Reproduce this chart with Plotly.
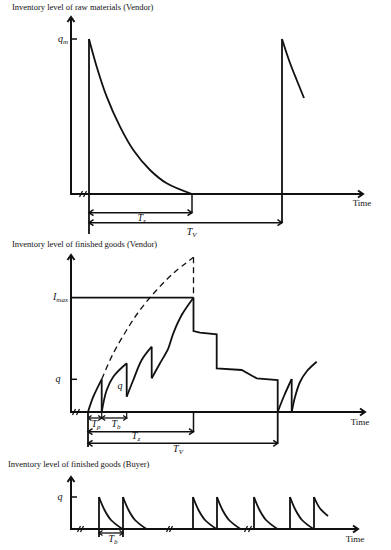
import math
import plotly.graph_objects as go

FONT = "Liberation Serif"
INK = "#111111"

# ---------------- Panel 1: raw materials (vendor) ----------------
raw_title = "Inventory level of raw materials (Vendor)"
raw_qm = 155
raw_axis_t_end = 292
raw_axis_L_top = 177
raw_order_times = [18, 211]
raw_Tz_end = 121
raw_decay_t = [18, 25.7, 35.7, 49, 62.3, 79, 95.7, 121]
raw_decay_L = [155, 127.3, 97.3, 67.3, 44, 24, 10.7, 0]
raw_next_t = [211, 219, 225.7, 233]
raw_next_L = [155, 131, 114, 96]
raw_breaks = [10, 14]
raw_dim_L = {"Tz": -18.7, "TV": -28.7, "ext": -40}

# ---------------- Panel 2: finished goods (vendor) ----------------
fg_title = "Inventory level of finished goods (Vendor)"
fg_Imax = 114.3
fg_q = 32.7
fg_axis_t_end = 294
fg_axis_L_top = 157
fg_t0 = 17
fg_Tp_end = 30.7
fg_Tb_end = 55.7
fg_Tz_end = 122.5
fg_TV_end = 206.7
fg_build = [
    ([17, 22.3, 30.7], [0, 15.3, 32.7]),
    ([30.7, 35.7, 42.3, 55.7], [0, 22, 35.3, 48.7]),
    ([55.7, 62.3, 70.7, 80.7], [15.3, 32, 52, 65.3]),
    ([80.7, 89, 97.3, 102.3, 110.7, 122.5], [33.7, 48.7, 63.7, 78.7, 97, 114.3]),
    ([206.7, 213, 220.7], [0, 16, 33]),
    ([220.7, 224, 229, 236, 245.7], [0, 15, 30, 41, 50.3]),
]
fg_drops = [(30.7, 32.7, 0), (55.7, 48.7, 15.3), (80.7, 65.3, 33.7), (220.7, 33, 0)]
fg_deplete_t = [122.5, 122.5, 129, 145.7, 145.7, 170.7, 185.7, 206.7, 206.7]
fg_deplete_L = [114.3, 81, 79.3, 77.7, 43.7, 42, 33.7, 32, 0]
fg_potential_t = [30.7, 42.3, 55.7, 69, 85.7, 102.3, 122.5]
fg_potential_L = [32.7, 58.7, 82, 102, 122, 138.7, 154.7]
fg_breaks = [3, 7]
fg_dim_L = {"TpTb": -6, "Tz": -19.7, "TV": -31.3, "ext": -35}

# ---------------- Panel 3: finished goods (buyer) ----------------
by_title = "Inventory level of finished goods (Buyer)"
by_q = 32
by_axis_t_end = 287
by_axis_L_top = 52
by_order_times = [28, 52, 122, 146, 183, 219]
by_cycle_dt = [0, 5.5, 12, 23.5]
by_cycle_L = [32, 19, 9, 0]
by_last_time = 243
by_last_dt = [0, 5.7, 14]
by_last_L = [32, 21, 13]
by_breaks = [8, 11, 97, 100, 175, 179]
by_dim_L = -4

W, H = 391, 550
BASE = {"y": 194, "y2": 412, "y3": 529}   # pixel row of each panel's time axis
T_ORIGIN = 71                              # pixel column of time zero

fig = go.Figure()


def line(t, L, yax, width=1.8, dash="solid", shape="linear"):
    fig.add_trace(go.Scatter(x=t, y=L, yaxis=yax, mode="lines",
                             line=dict(color=INK, width=width, dash=dash, shape=shape, smoothing=1.0),
                             hoverinfo="skip", showlegend=False))


def head(t, L, ux, uy, yax, width, a, b):
    px, py = -uy, ux
    line([t - a * ux + b * px, t, t - a * ux - b * px],
         [L - a * uy + b * py, L, L - a * uy - b * py], yax, width=width)


def arrow(t0, L0, t1, L1, yax, width=1.8, double=False, a=5, b=3.5):
    line([t0, t1], [L0, L1], yax, width=width)
    d = math.hypot(t1 - t0, L1 - L0)
    ux, uy = (t1 - t0) / d, (L1 - L0) / d
    head(t1, L1, ux, uy, yax, width, a, b)
    if double:
        head(t0, L0, -ux, -uy, yax, width, a, b)


def label(t, L, text, yax, size=10, pos="middle center"):
    fig.add_trace(go.Scatter(x=[t], y=[L], yaxis=yax, mode="text", text=[text],
                             textposition=pos, cliponaxis=False,
                             textfont=dict(family=FONT, size=size, color=INK),
                             hoverinfo="skip", showlegend=False))


def breaks(ts, yax):
    xs, ys = [], []
    for b in ts:
        xs += [b - 1.5, b + 1.5, None]
        ys += [-3, 3, None]
    line(xs, ys, yax, width=1.2)


def axes(yax, t_end, L_top):
    arrow(-1, 0, t_end, 0, yax, width=2)
    arrow(0, 0, 0, L_top, yax, width=2)


# ---- Panel 1 ----
axes("y", raw_axis_t_end, raw_axis_L_top)
breaks(raw_breaks, "y")
line([-1, 6], [raw_qm, raw_qm], "y", width=1.5)
line(raw_decay_t, raw_decay_L, "y", shape="spline")
line(raw_next_t, raw_next_L, "y", shape="spline")
line([raw_order_times[0]] * 2, [raw_qm, raw_dim_L["ext"]], "y", width=1.8)
line([raw_order_times[1]] * 2, [raw_qm, raw_dim_L["TV"]], "y", width=1.8)
line([raw_Tz_end] * 2, [0, raw_dim_L["Tz"]], "y", width=1.5)
arrow(raw_order_times[0], raw_dim_L["Tz"], raw_Tz_end, raw_dim_L["Tz"], "y", width=1.5, double=True, a=4.5, b=3)
arrow(raw_order_times[0], raw_dim_L["TV"], raw_order_times[1], raw_dim_L["TV"], "y", width=1.5, double=True, a=4.5, b=3)
label(-59, 186, raw_title, "y", size=8.5, pos="middle right")
label(-3, raw_qm, "<i>q<sub>m</sub></i>", "y", size=10, pos="middle left")
label(70.7, -24.3, "<i>T<sub>z</sub></i>", "y", size=10)
label(120.7, -38.3, "<i>T<sub>V</sub></i>", "y", size=10)
label(291, -10, "Time", "y", size=9)

# ---- Panel 2 ----
axes("y2", fg_axis_t_end, fg_axis_L_top)
breaks(fg_breaks, "y2")
line([0, fg_Tz_end], [fg_Imax, fg_Imax], "y2", width=1.8)
line([-1, 6], [fg_q, fg_q], "y2", width=1.5)
line(fg_potential_t, fg_potential_L, "y2", width=1.3, dash="6px,4px", shape="spline")
line([fg_Tz_end, fg_Tz_end], [fg_potential_L[-1], fg_Imax], "y2", width=1.3, dash="6px,4px")
for seg_t, seg_L in fg_build:
    line(seg_t, seg_L, "y2", shape="spline")
for t, a_, b_ in fg_drops:
    line([t, t], [a_, b_], "y2")
line(fg_deplete_t, fg_deplete_L, "y2")
line([fg_t0, fg_t0], [0, fg_dim_L["ext"]], "y2", width=1.8)
line([fg_TV_end, fg_TV_end], [0, fg_dim_L["TV"]], "y2", width=1.8)
line([fg_Tz_end, fg_Tz_end], [0, fg_dim_L["Tz"]], "y2", width=1.5)
line([fg_Tp_end, fg_Tp_end], [0, fg_dim_L["TpTb"] - 1], "y2", width=1.2)
line([fg_Tb_end, fg_Tb_end], [0, fg_dim_L["TpTb"] - 1], "y2", width=1.2)
arrow(fg_t0, fg_dim_L["TpTb"], fg_Tp_end, fg_dim_L["TpTb"], "y2", width=1.3, double=True, a=3.5, b=2.5)
arrow(fg_Tp_end, fg_dim_L["TpTb"], fg_Tb_end, fg_dim_L["TpTb"], "y2", width=1.3, double=True, a=3.5, b=2.5)
arrow(fg_t0, fg_dim_L["Tz"], fg_Tz_end, fg_dim_L["Tz"], "y2", width=1.5, double=True, a=4.5, b=3)
arrow(fg_t0, fg_dim_L["TV"], fg_TV_end, fg_dim_L["TV"], "y2", width=1.5, double=True, a=4.5, b=3)
label(-59, 167, fg_title, "y2", size=8.5, pos="middle right")
label(-3, fg_Imax, "<i>I<sub>max</sub></i>", "y2", size=10, pos="middle left")
label(-13, fg_q, "<i>q</i>", "y2", size=10)
label(49, 25.3, "<i>q</i>", "y2", size=10)
label(25, -12, "<i>T<sub>p</sub></i>", "y2", size=10)
label(45, -12, "<i>T<sub>b</sub></i>", "y2", size=10)
label(65, -24, "<i>T<sub>z</sub></i>", "y2", size=10)
label(107, -37, "<i>T<sub>V</sub></i>", "y2", size=10)
label(289, -11, "Time", "y2", size=9)

# ---- Panel 3 ----
axes("y3", by_axis_t_end, by_axis_L_top)
breaks(by_breaks, "y3")
line([-1, 6], [by_q, by_q], "y3", width=1.5)
for i, t0 in enumerate(by_order_times):
    low = by_dim_L - 4 if i < 2 else 0
    line([t0, t0], [low, by_cycle_L[0]], "y3")
    line([t0 + d for d in by_cycle_dt], by_cycle_L, "y3", shape="spline")
line([by_last_time, by_last_time], [0, by_last_L[0]], "y3")
line([by_last_time + d for d in by_last_dt], by_last_L, "y3", shape="spline")
arrow(by_order_times[0], by_dim_L, by_order_times[1], by_dim_L, "y3", width=1.3, double=True, a=3.5, b=2.5)
label(-63, 64, by_title, "y3", size=8.5, pos="middle right")
label(-11, by_q, "<i>q</i>", "y3", size=10)
label(42, -10, "<i>T<sub>b</sub></i>", "y3", size=10)
label(284, -11, "Time", "y3", size=9)

yaxis_common = dict(visible=False, domain=[0, 1], fixedrange=True)
fig.update_layout(
    width=W, height=H,
    margin=dict(l=0, r=0, t=0, b=0),
    font=dict(family=FONT, size=10, color=INK),
    paper_bgcolor="white", plot_bgcolor="white",
    showlegend=False,
    hovermode=False,
    xaxis=dict(visible=False, range=[-T_ORIGIN, W - T_ORIGIN], domain=[0, 1], fixedrange=True),
    yaxis=dict(range=[BASE["y"] - H, BASE["y"]], **yaxis_common),
    yaxis2=dict(range=[BASE["y2"] - H, BASE["y2"]], overlaying="y", **yaxis_common),
    yaxis3=dict(range=[BASE["y3"] - H, BASE["y3"]], overlaying="y", **yaxis_common),
)

# remove the page's default 8px body margin so the figure sits at the window corner
fig.write_html("out.html", config={"displayModeBar": False, "staticPlot": True},
               post_script="document.body.style.margin='0';document.body.style.overflow='hidden';")
